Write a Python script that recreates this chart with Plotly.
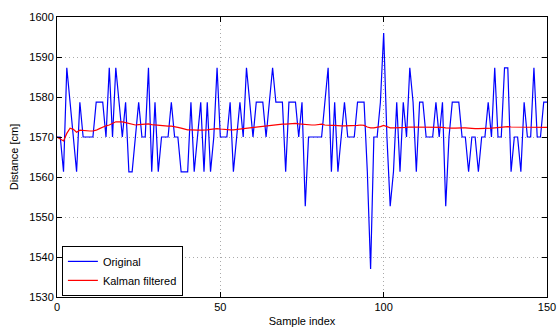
import plotly.graph_objects as go

A, B, C, D, E = 1587.3, 1578.7, 1570.0, 1561.3, 1552.7

sample_index = list(range(0, 151))

original = [
    C, C, D, A, B, C, D, B, C, C,      # 0-9
    C, C, B, B, B, C, A, C, A, B,      # 10-19
    C, B, D, D, C, B, C, C, A, D,      # 20-29
    B, D, C, C, C, B, C, C, D, D,      # 30-39
    D, B, D, C, B, D, B, D, C, A,      # 40-49
    C, C, C, B, D, C, B, C, A, B,      # 50-59
    C, B, B, B, C, B, A, B, B, B,      # 60-69
    D, B, B, B, C, B, E, C, C, C,      # 70-79
    C, C, B, A, D, B, D, C, B, C,      # 80-89
    C, C, B, B, B, D, 1537.0, C, C, B,  # 90-99
    1596.0, C, E, D, B, D, B, C, A, B,  # 100-109
    D, B, B, C, C, C, B, C, B, E,      # 110-119
    C, B, B, B, C, C, D, C, C, D,      # 120-129
    C, C, B, C, A, C, C, A, A, D,      # 130-139
    C, C, D, B, C, C, A, C, C, B,      # 140-149
    B,                                  # 150
]

kalman = [
    1570.0, 1569.4, 1569.0, 1570.9, 1572.2, 1571.9, 1571.2, 1571.7, 1571.6, 1571.5,
    1571.5, 1571.5, 1571.7, 1572.1, 1572.5, 1572.8, 1573.0, 1573.4, 1573.8, 1573.8,
    1573.8, 1573.6, 1573.4, 1573.2, 1573.0, 1573.1, 1573.2, 1573.3, 1573.3, 1573.1,
    1573.0, 1572.9, 1572.8, 1572.7, 1572.7, 1572.7, 1572.6, 1572.4, 1572.2, 1572.0,
    1571.8, 1571.8, 1571.7, 1571.7, 1571.7, 1571.7, 1571.8, 1571.9, 1572.0, 1572.1,
    1572.0, 1571.9, 1571.8, 1571.8, 1571.8, 1571.9, 1572.0, 1572.1, 1572.2, 1572.3,
    1572.4, 1572.5, 1572.6, 1572.7, 1572.75, 1572.8, 1572.9, 1573.0, 1573.1, 1573.2,
    1573.2, 1573.3, 1573.3, 1573.4, 1573.3, 1573.2, 1573.1, 1573.0, 1573.0, 1573.0,
    1573.1, 1573.2, 1573.0, 1572.9, 1572.9, 1572.9, 1572.8, 1572.8, 1572.8, 1572.8,
    1572.8, 1572.9, 1572.9, 1573.0, 1572.9, 1572.5, 1572.3, 1572.3, 1572.4, 1572.6,
    1572.9, 1572.6, 1572.3, 1572.3, 1572.3, 1572.4, 1572.4, 1572.4, 1572.5, 1572.5,
    1572.4, 1572.4, 1572.4, 1572.4, 1572.4, 1572.4, 1572.4, 1572.4, 1572.4, 1572.3,
    1572.2, 1572.2, 1572.2, 1572.3, 1572.3, 1572.3, 1572.2, 1572.2, 1572.1, 1572.1,
    1572.1, 1572.1, 1572.2, 1572.2, 1572.3, 1572.4, 1572.5, 1572.6, 1572.6, 1572.5,
    1572.5, 1572.4, 1572.4, 1572.4, 1572.4, 1572.4, 1572.4, 1572.4, 1572.4, 1572.4,
    1572.4,
]

x_ticks = [0, 50, 100, 150]
y_ticks = [1530, 1540, 1550, 1560, 1570, 1580, 1590, 1600]

FONT = "Liberation Sans, Arial"

fig = go.Figure()
fig.add_trace(go.Scatter(x=sample_index, y=original, mode="lines", name="Original",
                         line=dict(color="rgb(0,0,255)", width=1.2)))
fig.add_trace(go.Scatter(x=sample_index, y=kalman, mode="lines", name="Kalman filtered",
                         line=dict(color="rgb(255,0,0)", width=1.2)))

axis_common = dict(
    showline=True, linecolor="black", linewidth=1, mirror="ticks",
    ticks="inside", ticklen=5, tickcolor="black",
    showgrid=True, gridcolor="rgb(170,170,170)", griddash="1px,3px", gridwidth=1,
    zeroline=False, automargin=False,
    tickfont=dict(family=FONT, size=11, color="black"),
)

fig.update_xaxes(range=[0, 150], tickvals=x_ticks,
                 title=dict(text="Sample index", font=dict(family=FONT, size=11, color="black"), standoff=6),
                 **axis_common)
fig.update_yaxes(range=[1530, 1600], tickvals=y_ticks,
                 title=dict(text="Distance [cm]", font=dict(family=FONT, size=11, color="black"), standoff=8),
                 **axis_common)

fig.update_layout(
    width=557, height=327,
    margin=dict(l=57, r=10, t=17, b=30),
    paper_bgcolor="white", plot_bgcolor="white",
    font=dict(family=FONT, size=11, color="black"),
    legend=dict(x=0.01, y=0.004, xanchor="left", yanchor="bottom",
                bgcolor="white", bordercolor="black", borderwidth=1,
                font=dict(family=FONT, size=11), tracegroupgap=0, itemwidth=30),
    showlegend=True,
)

fig.write_html("out.html", config={"displayModeBar": False},
               post_script="document.body.style.margin='0px';document.body.style.overflow='hidden';")
